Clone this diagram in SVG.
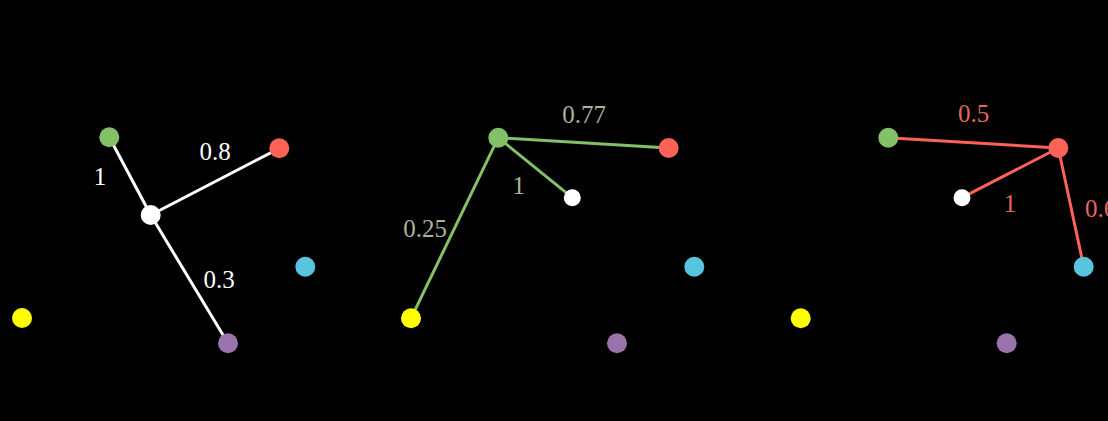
<svg xmlns="http://www.w3.org/2000/svg" width="1108" height="421" viewBox="0 0 1108 421">
<style>
.g{fill:#83C167}.r{fill:#FC6255}.b{fill:#58C4DD}.y{fill:#FFFF00}.p{fill:#9A72AC}.w{fill:#FFFFFF}
.e{stroke-width:3;stroke-linecap:round;fill:none}
.ew{stroke:#FFFFFF}.eg{stroke:#83C167}.er{stroke:#FC6255}
text{font-family:"Liberation Serif","DejaVu Serif",serif;font-size:25px;text-anchor:middle}
.lw{fill:#FFFFFF}.lg{fill:#A7B59C}.lr{fill:#E5675C}
</style>
<rect width="1108" height="421" fill="#000"/>
<g id="connectors">
  <line class="e ew" x1="150.7" y1="215" x2="109.3" y2="137.3"/>
  <line class="e ew" x1="150.7" y1="215" x2="279.3" y2="148.3"/>
  <line class="e ew" x1="150.7" y1="215" x2="228" y2="343.3"/>
  <line class="e eg" x1="498.3" y1="137.7" x2="668.7" y2="148"/>
  <line class="e eg" x1="498.3" y1="137.7" x2="572.3" y2="197.7"/>
  <line class="e eg" x1="498.3" y1="137.7" x2="411" y2="318.3"/>
  <line class="e er" x1="1058.3" y1="148" x2="888.3" y2="137.7"/>
  <line class="e er" x1="1058.3" y1="148" x2="962" y2="197.7"/>
  <line class="e er" x1="1058.3" y1="148" x2="1083.7" y2="266.7"/>
</g>
<g id="labels">
  <text class="lw" x="100" y="185">1</text>
  <text class="lw" x="215" y="160">0.8</text>
  <text class="lw" x="219" y="288">0.3</text>
  <text class="lg" x="584" y="122.5">0.77</text>
  <text class="lg" x="518.7" y="194">1</text>
  <text class="lg" x="425" y="237">0.25</text>
  <text class="lr" x="973.5" y="122">0.5</text>
  <text class="lr" x="1010" y="212">1</text>
  <text class="lr" x="1085" y="216.5" style="text-anchor:start">0.6</text>
</g>
<g id="panel1">
  <g id="p1-green"><circle class="g" cx="109.3" cy="137.3" r="10"/></g>
  <g id="p1-red"><circle class="r" cx="279.3" cy="148.3" r="10"/></g>
  <g id="p1-white"><circle class="w" cx="150.7" cy="215" r="10"/></g>
  <g id="p1-blue"><circle class="b" cx="305.3" cy="266.7" r="10"/></g>
  <g id="p1-yellow"><circle class="y" cx="22" cy="318" r="10"/></g>
  <g id="p1-purple"><circle class="p" cx="228" cy="343.3" r="10"/></g>
</g>
<g id="panel2">
  <g id="p2-green"><circle class="g" cx="498.3" cy="137.7" r="10"/></g>
  <g id="p2-red"><circle class="r" cx="668.7" cy="148" r="10"/></g>
  <g id="p2-white"><circle class="w" cx="572.3" cy="197.7" r="8.5"/></g>
  <g id="p2-blue"><circle class="b" cx="694.3" cy="266.7" r="10"/></g>
  <g id="p2-yellow"><circle class="y" cx="411" cy="318.3" r="10"/></g>
  <g id="p2-purple"><circle class="p" cx="617" cy="343.3" r="10"/></g>
</g>
<g id="panel3">
  <g id="p3-green"><circle class="g" cx="888.3" cy="137.7" r="10"/></g>
  <g id="p3-red"><circle class="r" cx="1058.3" cy="148" r="10"/></g>
  <g id="p3-white"><circle class="w" cx="962" cy="197.7" r="8.5"/></g>
  <g id="p3-blue"><circle class="b" cx="1083.7" cy="266.7" r="10"/></g>
  <g id="p3-yellow"><circle class="y" cx="800.7" cy="318.3" r="10"/></g>
  <g id="p3-purple"><circle class="p" cx="1006.7" cy="343.3" r="10"/></g>
</g>
</svg>
